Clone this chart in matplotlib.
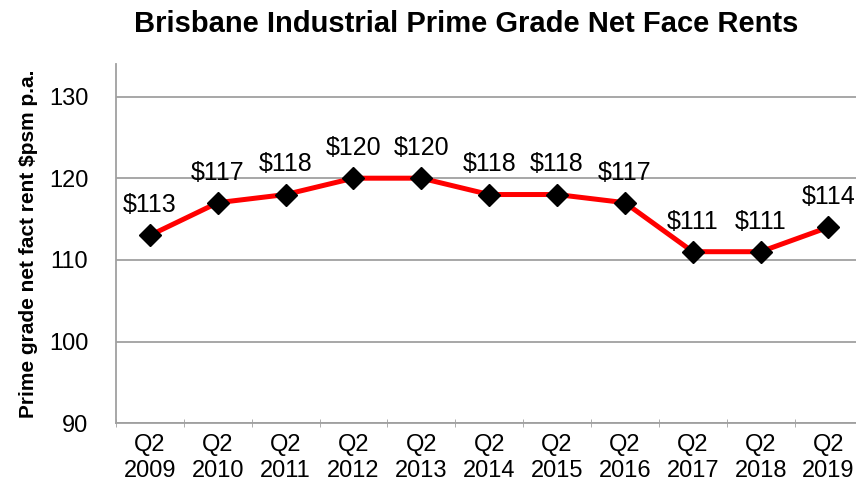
import matplotlib.pyplot as plt

plt.rcParams['font.family'] = ['Liberation Sans', 'DejaVu Sans']

quarters = ["Q2\n2009", "Q2\n2010", "Q2\n2011", "Q2\n2012", "Q2\n2013", "Q2\n2014",
            "Q2\n2015", "Q2\n2016", "Q2\n2017", "Q2\n2018", "Q2\n2019"]
rents = [113, 117, 118, 120, 120, 118, 118, 117, 111, 111, 114]
yticks = [90, 100, 110, 120, 130]

fig = plt.figure(figsize=(8.56, 4.91), dpi=100)
ax = fig.add_axes([0.1355, 0.138, 0.872, 0.732])

x = list(range(len(rents)))
ax.plot(x, rents, color='#ff0000', lw=3.6, marker='D', ms=11.5,
        mfc='black', mec='black', zorder=3)
for xi, v in zip(x, rents):
    ax.annotate(f"${v}", (xi, v), xytext=(0, 13), textcoords='offset points',
                ha='center', va='bottom', fontsize=18)

ax.set_xlim(-0.5, len(rents) - 0.5)
ax.set_ylim(90, 134)
ax.set_yticks(yticks)
ax.yaxis.grid(True, color='#a0a0a0', lw=1.3)
ax.set_axisbelow(True)
ax.set_xticks(x)
ax.set_xticklabels(quarters, fontsize=17, linespacing=1.2)
ax.set_xticks([i - 0.5 for i in range(len(rents) + 1)], minor=True)
ax.tick_params(axis='x', which='major', length=0, pad=8)
ax.tick_params(axis='x', which='minor', length=6, color='#a0a0a0', direction='inout')
ax.tick_params(axis='y', length=0, labelsize=17, pad=20)
for s in ['top', 'right']:
    ax.spines[s].set_visible(False)
for s in ['left', 'bottom']:
    ax.spines[s].set_color('#a0a0a0')
    ax.spines[s].set_linewidth(1.3)

ax.set_ylabel("Prime grade net fact rent $psm p.a.", fontsize=15, fontweight='bold', labelpad=8)
fig.suptitle("Brisbane Industrial Prime Grade Net Face Rents", fontsize=21,
             fontweight='bold', x=0.545, y=0.98)

fig.savefig("out.png", dpi=100)
